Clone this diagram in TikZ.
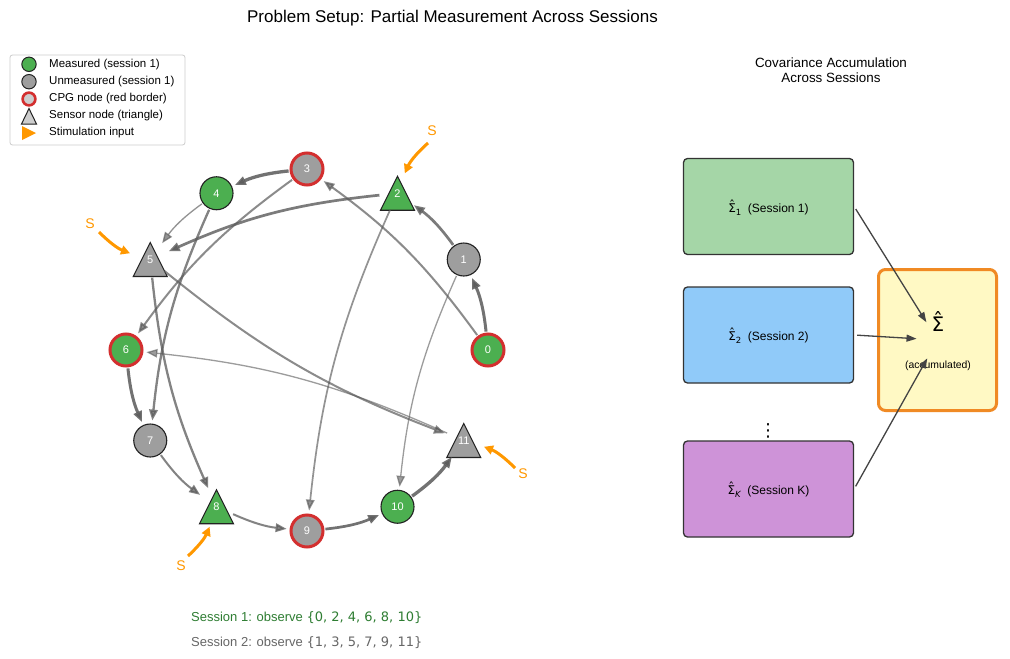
\documentclass[tikz,border=0pt]{standalone}
\usepackage{fontspec}
\setmainfont{Liberation Sans}
\newfontfamily\dejavu{DejaVu Sans}
\usetikzlibrary{arrows.meta,calc}
\definecolor{measured}{HTML}{4CAF50}
\definecolor{unmeas}{HTML}{9E9E9E}
\definecolor{lightm}{HTML}{CDCDCD}
\definecolor{cpg}{HTML}{D32F2F}
\definecolor{nodeb}{HTML}{222222}
\definecolor{edgec}{HTML}{5A5A5A}
\definecolor{stim}{HTML}{FF9800}
\definecolor{box1}{HTML}{A5D6A7}
\definecolor{box2}{HTML}{90CAF9}
\definecolor{boxk}{HTML}{CE93D8}
\definecolor{boxb}{HTML}{333333}
\definecolor{accfill}{HTML}{FFF9C4}
\definecolor{accdraw}{HTML}{F08A24}
\definecolor{accar}{HTML}{444444}
\definecolor{legb}{HTML}{CCCCCC}
\definecolor{sonec}{HTML}{2E7D32}
\definecolor{stwoc}{HTML}{666666}
\newcommand\sighat{\ooalign{Σ\cr\hidewidth\raisebox{0.2em}{ˆ}\hidewidth\cr}}
\newcommand\sbsc[1]{\raisebox{-0.28em}{\fontsize{8.5}{9}\selectfont #1}}
\begin{document}
\begin{tikzpicture}[x=1pt,y=-1pt,
  base/.style={circle, inner sep=0pt, minimum size=33pt, draw=nodeb, line width=1.1pt, text=white, font=\fontsize{11}{13}\selectfont},
  mnode/.style={base, fill=measured},
  unode/.style={base, fill=unmeas},
  cpgnode/.style={draw=cpg, line width=3pt, minimum size=32pt},
  sensor/.style={circle, inner sep=0pt, minimum size=34pt, text=white, font=\fontsize{11}{13}\selectfont},
  trib/.style={draw=nodeb, line width=1.1pt, line join=miter},
  lnk/.style={draw=edgec, line width=#1, -{Triangle[length=11pt,width=8.5pt]}, bend right=9, shorten >=3pt, shorten <=1pt},
  stimar/.style={draw=stim, line width=3pt, -{Triangle[length=9pt,width=9pt]}, shorten >=4pt, bend right=12},
  slabel/.style={text=stim, font=\fontsize{14}{16}\selectfont},
  legtxt/.style={anchor=west, font=\fontsize{11.5}{13}\selectfont, inner sep=0pt},
  sbox/.style={draw=boxb, line width=1.3pt, rounded corners=4pt, minimum width=170pt, minimum height=96pt, inner sep=0pt},
  boxlabel/.style={anchor=base, inner sep=0pt, font=\fontsize{12}{14}\selectfont},
  accarrow/.style={draw=accar, line width=1.3pt, -{Triangle[length=10pt,width=7pt]}, shorten <=3pt, shorten >=21pt}
]
\useasboundingbox (0,0) rectangle (1010,659);
\fill[white] (0,0) rectangle (1010,659);

% title
\node[font=\fontsize{17}{20}\selectfont] (title) at (452.5,18) {Problem Setup: Partial Measurement Across Sessions};

% legend
\node[draw=legb, fill=white, rounded corners=2.5pt, line width=0.8pt, minimum width=175pt, minimum height=90pt, inner sep=0pt] (legbox) at (97.5,100) {};
\fill[measured, draw=nodeb, line width=1pt] (29,64.3) circle (7.2);
\fill[unmeas, draw=nodeb, line width=1pt] (29,81.7) circle (7.2);
\fill[lightm, draw=cpg, line width=2.6pt] (29,99) circle (6.4);
\filldraw[fill=lightm, draw=nodeb, line width=1pt, line join=miter] (29,108.5) -- (36.5,124) -- (21.5,124) -- cycle;
\fill[stim] (22,126) -- (36,133) -- (22,140) -- cycle;
\node[legtxt] (l1) at (49,64.3) {Measured (session 1)};
\node[legtxt] (l2) at (49,81.7) {Unmeasured (session 1)};
\node[legtxt] (l3) at (49,99) {CPG node (red border)};
\node[legtxt] (l4) at (49,116) {Sensor node (triangle)};
\node[legtxt] (l5) at (49,133) {Stimulation input};

% sensor triangles
\coordinate (p2) at (397.5,193.25);
\coordinate (p5) at (150.25,259.5);
\coordinate (p8) at (216.5,506.75);
\coordinate (p11) at (463.75,440.5);
\draw[trib, fill=measured] ([yshift=17pt]p2) -- ([shift={(17pt,-17pt)}]p2) -- ([shift={(-17pt,-17pt)}]p2) -- cycle;
\draw[trib, fill=unmeas] ([yshift=17pt]p5) -- ([shift={(17pt,-17pt)}]p5) -- ([shift={(-17pt,-17pt)}]p5) -- cycle;
\draw[trib, fill=measured] ([yshift=17pt]p8) -- ([shift={(17pt,-17pt)}]p8) -- ([shift={(-17pt,-17pt)}]p8) -- cycle;
\draw[trib, fill=unmeas] ([yshift=17pt]p11) -- ([shift={(17pt,-17pt)}]p11) -- ([shift={(-17pt,-17pt)}]p11) -- cycle;

% nodes
\node[mnode, cpgnode] (n0) at (488,350) {0};
\node[unode] (n1) at (463.75,259.5) {1};
\node[sensor] (n2) at (p2) {2};
\node[unode, cpgnode] (n3) at (307,169) {3};
\node[mnode] (n4) at (216.5,193.25) {4};
\node[sensor] (n5) at (p5) {5};
\node[mnode, cpgnode] (n6) at (126,350) {6};
\node[unode] (n7) at (150.25,440.5) {7};
\node[sensor] (n8) at (p8) {8};
\node[unode, cpgnode] (n9) at (307,531) {9};
\node[mnode] (n10) at (397.5,506.75) {10};
\node[sensor] (n11) at (p11) {11};

% edges
\draw[lnk=3pt, opacity=.85] (n0) to (n1);
\draw[lnk=2.7pt, opacity=.8] (n1) to (n2);
\draw[lnk=3.3pt, opacity=.85] (n3) to (n4);
\draw[lnk=2pt, opacity=.7] (n0) to (n3);
\draw[lnk=2.7pt, opacity=.8] (n2) to (n5);
\draw[lnk=1.3pt, opacity=.65] (n4) to (n5);
\draw[lnk=2pt, opacity=.7] (n3) to (n6);
\draw[lnk=2.3pt, opacity=.75] (n4) to (n7);
\draw[lnk=2.3pt, opacity=.75] (n5) to (n8);
\draw[lnk=3pt, opacity=.85] (n6) to (n7);
\draw[lnk=2pt, opacity=.75] (n7) to (n8);
\draw[lnk=2pt, opacity=.75] (n8) to (n9);
\draw[lnk=2.7pt, opacity=.85] (n9) to (n10);
\draw[lnk=3.3pt, opacity=.85] (n10) to (n11);
\draw[lnk=1.7pt, opacity=.65] (n2) to (n9);
\draw[lnk=1.3pt, opacity=.6] (n1) to (n10);
\draw[lnk=1.3pt, opacity=.6] (n11) to (n6);
\draw[lnk=2pt, opacity=.7] (n5) to (n11);

% stimulation
\coordinate (s2) at (428,143);
\coordinate (s5) at (99,232);
\coordinate (s8) at (188,556);
\coordinate (s11) at (515,468);
\draw[stimar] (s2) to (n2);
\draw[stimar] (s5) to (n5);
\draw[stimar] (s8) to (n8);
\draw[stimar] (s11) to (n11);
\node[slabel] (t2) at (432,131) {S};
\node[slabel] (t5) at (90,224) {S};
\node[slabel] (t8) at (181,566) {S};
\node[slabel] (t11) at (523,474) {S};

% session texts
\node[anchor=west, text=sonec, font=\fontsize{13}{15}\selectfont, inner sep=0pt] (sess1) at (191,618) {Session 1: observe {\dejavu\{0, 2, 4, 6, 8, 10\}}};
\node[anchor=west, text=stwoc, font=\fontsize{13}{15}\selectfont, inner sep=0pt] (sess2) at (191,643) {Session 2: observe {\dejavu\{1, 3, 5, 7, 9, 11\}}};

% right panel
\node[font=\fontsize{13.4}{14.5}\selectfont, align=center] (sub) at (831,70) {Covariance Accumulation\\Across Sessions};
\node[sbox, fill=box1] (b1) at (768.5,206.5) {};
\node[sbox, fill=box2] (b2) at (768.5,335) {};
\node[sbox, fill=boxk] (bk) at (768.5,489) {};
\node[boxlabel] (b1t) at (768.5,212.3) {{\dejavu\sighat\sbsc{1}}\ \ (Session 1)};
\node[boxlabel] (b2t) at (768.5,340.3) {{\dejavu\sighat\sbsc{2}}\ \ (Session 2)};
\node[boxlabel] (bkt) at (768.5,494.3) {{\dejavu\sighat\sbsc{\itshape K}}\ \ (Session K)};
\node[font=\dejavu\fontsize{18}{20}\selectfont, inner sep=0pt] (dots) at (768,431) {⋮};
\node[draw=accdraw, fill=accfill, line width=3pt, rounded corners=7pt, minimum width=118pt, minimum height=141pt, inner sep=0pt] (acc) at (937.5,340) {};
\node[font=\dejavu\fontsize{20}{24}\selectfont, anchor=base, inner sep=0pt] (sig) at (938,331.5) {\sighat};
\node[font=\fontsize{10.4}{12}\selectfont] (accl) at (938,365.5) {(accumulated)};
\draw[accarrow] (b1.east) -- (acc.center);
\draw[accarrow] (b2.east) -- (acc.center);
\draw[accarrow] (bk.east) -- (acc.center);
\end{tikzpicture}
\end{document}
